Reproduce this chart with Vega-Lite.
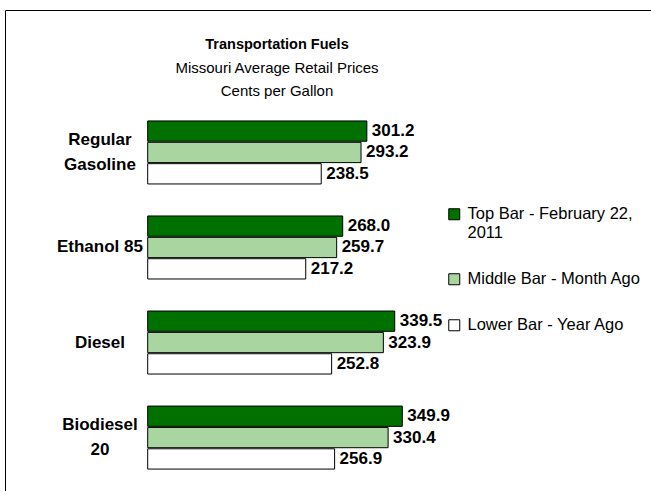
{
  "$schema": "https://vega.github.io/schema/vega-lite/v6.json",
  "width": 646,
  "height": 481,
  "autosize": "none",
  "padding": {"left": 5, "top": 10, "right": 0, "bottom": 0},
  "background": "white",
  "config": {
    "view": {"stroke": null},
    "font": "Liberation Sans"
  },
  "title": {
    "text": "Transportation Fuels",
    "subtitle": ["Missouri Average Retail Prices", "Cents per Gallon"],
    "anchor": "middle",
    "frame": "group",
    "dx": -51,
    "offset": -90,
    "font": "Liberation Sans",
    "fontSize": 14.5,
    "fontWeight": "bold",
    "color": "black",
    "subtitleFont": "Liberation Sans",
    "subtitleFontSize": 15,
    "subtitleColor": "black",
    "subtitlePadding": 9,
    "subtitleLineHeight": 23
  },
  "data": {
    "values": [
      {"fuel": "Regular\nGasoline", "series": "Top Bar - February 22, 2011", "value": 301.2},
      {"fuel": "Regular\nGasoline", "series": "Middle Bar - Month Ago", "value": 293.2},
      {"fuel": "Regular\nGasoline", "series": "Lower Bar - Year Ago", "value": 238.5},
      {"fuel": "Ethanol 85", "series": "Top Bar - February 22, 2011", "value": 268.0},
      {"fuel": "Ethanol 85", "series": "Middle Bar - Month Ago", "value": 259.7},
      {"fuel": "Ethanol 85", "series": "Lower Bar - Year Ago", "value": 217.2},
      {"fuel": "Diesel", "series": "Top Bar - February 22, 2011", "value": 339.5},
      {"fuel": "Diesel", "series": "Middle Bar - Month Ago", "value": 323.9},
      {"fuel": "Diesel", "series": "Lower Bar - Year Ago", "value": 252.8},
      {"fuel": "Biodiesel\n20", "series": "Top Bar - February 22, 2011", "value": 349.9},
      {"fuel": "Biodiesel\n20", "series": "Middle Bar - Month Ago", "value": 330.4},
      {"fuel": "Biodiesel\n20", "series": "Lower Bar - Year Ago", "value": 256.9}
    ]
  },
  "encoding": {
    "y": {
      "field": "fuel",
      "type": "nominal",
      "sort": null,
      "scale": {"paddingInner": 0.337, "paddingOuter": 0.699, "align": 0.835},
      "axis": {"orient": "left", "domain": true, "domainColor": "black", "domainWidth": 1, "labels": false, "ticks": false, "grid": false, "title": null}
    },
    "x": {
      "field": "value",
      "type": "quantitative",
      "scale": {"domain": [-196.1, 691.7], "nice": false, "zero": false},
      "axis": {"orient": "top", "domain": true, "domainColor": "black", "domainWidth": 1, "labels": false, "ticks": false, "grid": false, "title": null}
    }
  },
  "layer": [
    {
      "mark": {"type": "bar", "stroke": "black", "strokeWidth": 1},
      "encoding": {
        "yOffset": {"field": "series", "type": "nominal", "sort": null, "scale": {"paddingInner": 0.05, "paddingOuter": 0}},
        "color": {
          "field": "series",
          "type": "nominal",
          "sort": null,
          "scale": {
            "domain": ["Top Bar - February 22, 2011", "Middle Bar - Month Ago", "Lower Bar - Year Ago"],
            "range": ["#007000", "#a8d5a0", "#ffffff"]
          },
          "legend": {
            "orient": "none",
            "legendX": 441,
            "legendY": 196,
            "title": null,
            "padding": 0,
            "symbolType": "square",
            "symbolSize": 121,
            "symbolStrokeColor": "black",
            "symbolStrokeWidth": 1,
            "symbolOpacity": 1,
            "labelFont": "Liberation Sans",
            "labelFontSize": 16.5,
            "labelColor": "black",
            "labelOffset": 5,
            "labelLimit": 400,
            "rowPadding": 29,
            "labelExpr": "datum.label == 'Top Bar - February 22, 2011' ? ['Top Bar - February 22,', '2011'] : datum.label"
          }
        },
        "stack": null
      }
    },
    {
      "mark": {"type": "text", "align": "left", "baseline": "middle", "dx": 5, "fontSize": 17, "fontWeight": "bold", "color": "black"},
      "encoding": {
        "yOffset": {"field": "series", "type": "nominal", "sort": null},
        "text": {"field": "value", "type": "quantitative", "format": ".1f"}
      }
    },
    {
      "transform": [
        {"filter": "datum.series == 'Top Bar - February 22, 2011'"},
        {"filter": "indexof(datum.fuel, '\\n') < 0"}
      ],
      "mark": {"type": "text", "align": "center", "baseline": "middle", "fontSize": 17, "fontWeight": "bold", "color": "black"},
      "encoding": {
        "x": {"datum": -65.6, "type": "quantitative"},
        "text": {"field": "fuel", "type": "nominal"}
      }
    },
    {
      "transform": [
        {"filter": "datum.series == 'Top Bar - February 22, 2011'"},
        {"filter": "indexof(datum.fuel, '\\n') >= 0"}
      ],
      "mark": {"type": "text", "align": "center", "baseline": "middle", "dy": -12.5, "lineBreak": "\n", "lineHeight": 25, "fontSize": 17, "fontWeight": "bold", "color": "black"},
      "encoding": {
        "x": {"datum": -65.6, "type": "quantitative"},
        "text": {"field": "fuel", "type": "nominal"}
      }
    }
  ]
}
